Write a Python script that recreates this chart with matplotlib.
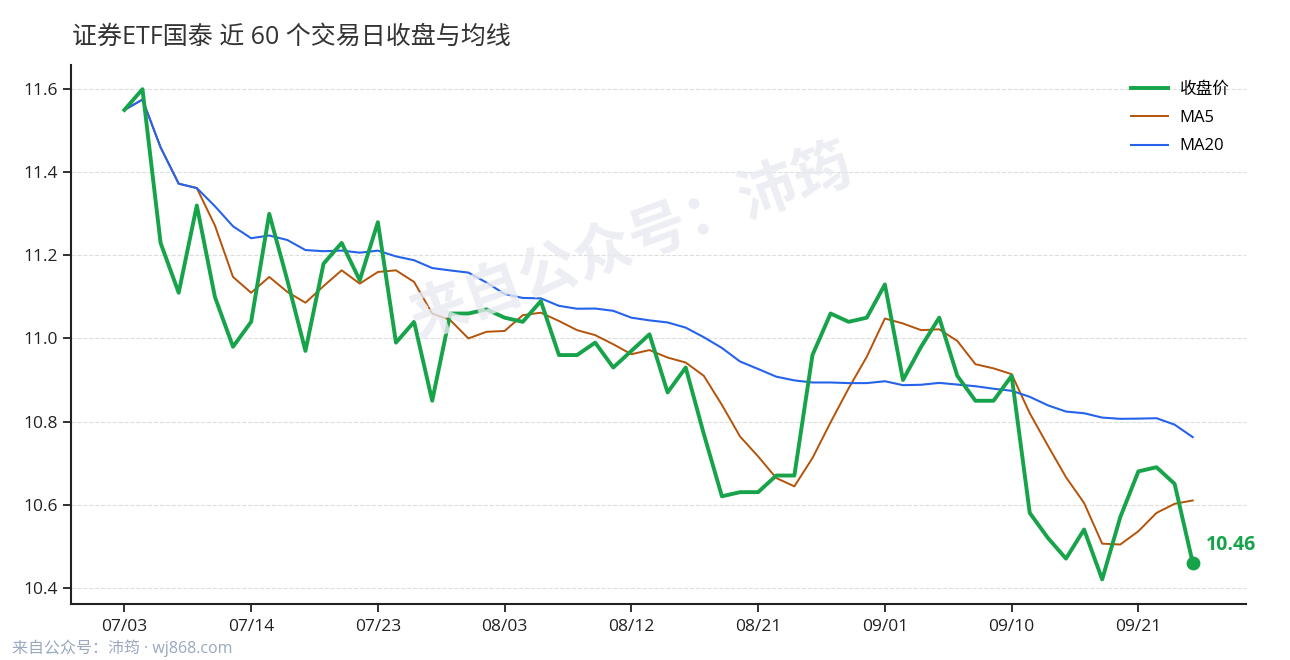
import numpy as np
import pandas as pd
import matplotlib
matplotlib.use("Agg")
import matplotlib.pyplot as plt

plt.rcParams['font.family'] = ['Open Sans', 'Noto Sans CJK SC', 'DejaVu Sans']

# 近 60 个交易日收盘价
close = [11.55, 11.60, 11.23, 11.11, 11.32, 11.10, 10.98, 11.04, 11.30, 11.14,
         10.97, 11.18, 11.23, 11.14, 11.28, 10.99, 11.04, 10.85, 11.06, 11.06,
         11.07, 11.05, 11.04, 11.09, 10.96, 10.96, 10.99, 10.93, 10.97, 11.01,
         10.87, 10.93, 10.77, 10.62, 10.63, 10.63, 10.67, 10.67, 10.96, 11.06,
         11.04, 11.05, 11.13, 10.90, 10.98, 11.05, 10.91, 10.85, 10.85, 10.91,
         10.58, 10.52, 10.47, 10.54, 10.42, 10.57, 10.68, 10.69, 10.65, 10.46]
tick_pos = [0, 7, 14, 21, 28, 35, 42, 49, 56]
tick_labels = ['07/03', '07/14', '07/23', '08/03', '08/12', '08/21', '09/01', '09/10', '09/21']

s = pd.Series(close)
ma5 = s.rolling(5, min_periods=1).mean()
ma20 = s.rolling(20, min_periods=1).mean()
x = np.arange(len(close))

GREEN = '#16a34a'
ORANGE = '#b45309'
BLUE = '#2563eb'

fig = plt.figure(figsize=(12.9, 6.6), dpi=100)
ax = fig.add_axes([0.055, 0.085, 0.911, 0.817])

l_ma5, = ax.plot(x, ma5, color=ORANGE, lw=1.4, label='MA5', zorder=3)
l_ma20, = ax.plot(x, ma20, color=BLUE, lw=1.5, label='MA20', zorder=3)
l_close, = ax.plot(x, close, color=GREEN, lw=2.8, label='收盘价', zorder=4)
ax.scatter([x[-1]], [close[-1]], s=80, color=GREEN, zorder=5)
ax.annotate(f'{close[-1]:.2f}', (x[-1], close[-1]), xytext=(9.5, 12.5),
            textcoords='offset points', color=GREEN, fontsize=14,
            fontweight='bold', va='center', ha='left')

ax.set_xticks(tick_pos)
ax.set_xticklabels(tick_labels)
ax.set_yticks([10.4, 10.6, 10.8, 11.0, 11.2, 11.4, 11.6])
ax.tick_params(axis='both', labelsize=12.5, length=6, width=1.3, colors='#222222')
ax.tick_params(axis='x', pad=5)
ax.grid(axis='y', linestyle='--', color='#dddddd', lw=0.8)
ax.set_axisbelow(True)
for side in ['top', 'right']:
    ax.spines[side].set_visible(False)
for side in ['left', 'bottom']:
    ax.spines[side].set_linewidth(1.5)
    ax.spines[side].set_color('#222222')

ax.legend(handles=[l_close, l_ma5, l_ma20], loc='upper right', frameon=False,
          fontsize=12, handlelength=2.2, handletextpad=0.7, labelspacing=0.75,
          borderaxespad=0.6)

# 水印
fig.text(0.49, 0.63, '来自公众号：沛筠', fontsize=42, color='#e8eaf0', rotation=20,
         ha='center', va='center', fontweight='bold', zorder=0, alpha=0.8)

fig.text(0.056, 0.944, '证券ETF国泰 近 60 个交易日收盘与均线', fontsize=18,
         color='#333333', ha='left', va='center')
fig.text(0.009, 0.018, '来自公众号：沛筠 · wj868.com', fontsize=11.5,
         color='#9aa8c0', ha='left', va='center')

fig.savefig('out.png', dpi=100)
